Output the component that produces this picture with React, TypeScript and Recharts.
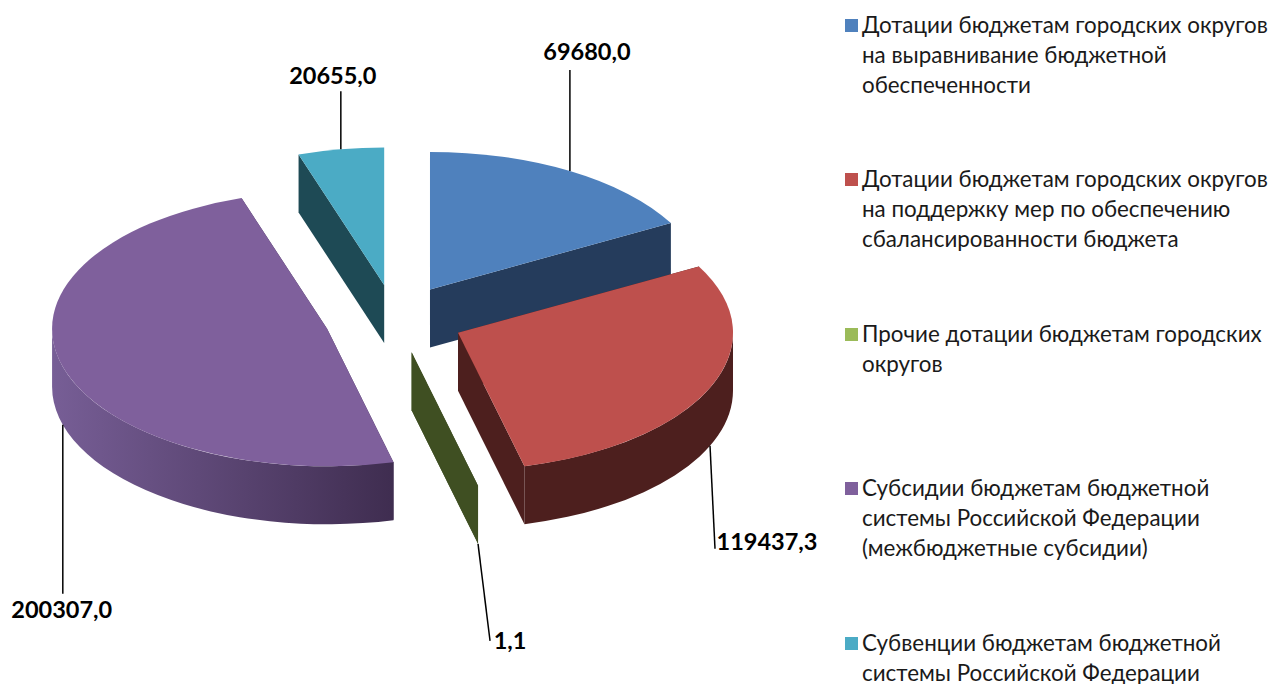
import { Legend, Pie, PieChart } from 'recharts'

const names = [
  'Дотации бюджетам городских округов на выравнивание бюджетной обеспеченности',
  'Дотации бюджетам городских округов на поддержку мер по обеспечению сбалансированности бюджета',
  'Прочие дотации бюджетам городских округов',
  'Субсидии бюджетам бюджетной системы Российской Федерации (межбюджетные субсидии)',
  'Субвенции бюджетам бюджетной системы Российской Федерации',
]
const values = [69680.0, 119437.3, 1.1, 200307.0, 20655.0]
const valueLabels = ['69680,0', '119437,3', '1,1', '200307,0', '20655,0']

const topColors = ['#4f81bd', '#be504d', '#9bbb59', '#7f609c', '#4babc5']
const faceColors = ['#253c5c', '#4d1f1e', '#3f4f22', '#3f2d50', '#1e4a55']
const rimLight = ['#253c5c', '#562422', '#3f4f22', '#775e96', '#1e4a55']
const rimDark = ['#253c5c', '#4d1f1e', '#3f4f22', '#3f2d50', '#1e4a55']
const explode = [0.25, 0.25, 0.25, 0.257, 0.25]

// where each leader line stops and its label sits, relative to the rim point
const leaderEnds = [
  { dx: 0, dy: -101, tx: 17, ty: -120 },
  { dx: 5, dy: 103, tx: 57, ty: 95 },
  { dx: 12, dy: 97, tx: 32, ty: 96 },
  { dx: 0, dy: 169, tx: -1, ty: 184 },
  { dx: 0, dy: -58, tx: -8, ty: -74 },
]

const SQUASH = 0.5
const DEPTH = 58
const RAD = Math.PI / 180

const data = names.map((name, i) => ({ name, value: values[i], fill: topColors[i] }))

function centerOf(cx: number, cy: number, r: number, midAngle: number, index: number) {
  return {
    x: cx + explode[index] * r * Math.cos(midAngle * RAD),
    y: cy - SQUASH * explode[index] * r * Math.sin(midAngle * RAD),
  }
}

function onRim(c: { x: number; y: number }, r: number, angle: number) {
  return { x: c.x + r * Math.cos(angle * RAD), y: c.y - SQUASH * r * Math.sin(angle * RAD) }
}

function Slice3D(props: any) {
  const { cx, cy, outerRadius: r, startAngle, endAngle, index } = props
  const c = centerOf(cx, cy, r, (startAngle + endAngle) / 2, index)
  const a = onRim(c, r, startAngle)
  const b = onRim(c, r, endAngle)
  const large = startAngle - endAngle > 180 ? 1 : 0
  const ry = r * SQUASH

  const face = (p: { x: number; y: number }) =>
    `M${c.x},${c.y} L${p.x},${p.y} L${p.x},${p.y + DEPTH} L${c.x},${c.y + DEPTH} Z`

  // only the front half of the rim can be seen
  const rimFrom = Math.min(startAngle, 0)
  const rimTo = Math.max(endAngle, -180)
  let rim = null
  if (rimFrom > rimTo) {
    const p = onRim(c, r, rimFrom)
    const q = onRim(c, r, rimTo)
    rim = (
      <path
        d={`M${p.x},${p.y} A${r},${ry} 0 0 1 ${q.x},${q.y} L${q.x},${q.y + DEPTH} A${r},${ry} 0 0 0 ${p.x},${p.y + DEPTH} Z`}
        fill={`url(#rim${index})`}
      />
    )
  }

  return (
    <g>
      <defs>
        <linearGradient id={`rim${index}`} gradientUnits="userSpaceOnUse" x1={c.x - r} x2={c.x + r * 0.24} y1={0} y2={0}>
          <stop offset="0" stopColor={rimLight[index]} />
          <stop offset="1" stopColor={rimDark[index]} />
        </linearGradient>
      </defs>
      <path d={face(a)} fill={faceColors[index]} />
      <path d={face(b)} fill={faceColors[index]} />
      {rim}
      <path d={`M${c.x},${c.y} L${a.x},${a.y} A${r},${ry} 0 ${large} 1 ${b.x},${b.y} Z`} fill={topColors[index]} />
    </g>
  )
}

function LeaderLabel(props: any) {
  const { cx, cy, outerRadius: r, midAngle, index } = props
  const c = centerOf(cx, cy, r, midAngle, index)
  const p = onRim(c, r, midAngle)
  // rim points on the front half hang from the bottom edge of the slice
  const startY = Math.sin(midAngle * RAD) < 0 ? p.y + DEPTH : p.y
  const end = leaderEnds[index]
  return (
    <g>
      <line x1={p.x} y1={startY} x2={p.x + end.dx} y2={startY + end.dy} stroke="#000" strokeWidth={1.5} />
      <text
        x={p.x + end.tx}
        y={startY + end.ty}
        textAnchor="middle"
        dominantBaseline="central"
        fontFamily="Lato, 'Open Sans', sans-serif"
        fontWeight={700}
        fontSize={23.5}
        fill="#000"
      >
        {valueLabels[index]}
      </text>
    </g>
  )
}

function LegendList({ payload }: any) {
  return (
    <div style={{ fontFamily: "Lato, 'Open Sans', sans-serif", fontSize: 22.4, lineHeight: '30px', color: '#1a1a1a' }}>
      {(payload ?? []).map((item: any, i: number) => (
        <div key={item.value} style={{ height: 154.4, position: 'relative', paddingLeft: 17 }}>
          <span style={{ position: 'absolute', left: 0, top: 9, width: 13, height: 13, background: topColors[i] }} />
          {item.value}
        </div>
      ))}
    </div>
  )
}

export default function App() {
  return (
    <div style={{ position: 'absolute', left: 0, top: 0, width: 1274, height: 684, overflow: 'hidden', background: '#fff' }}>
      <PieChart width={1274} height={684} margin={{ top: 0, right: 0, bottom: 0, left: 0 }}>
        <Pie
          data={data}
          dataKey="value"
          nameKey="name"
          cx={395}
          cy={319}
          outerRadius={275}
          startAngle={90}
          endAngle={-270}
          stroke="none"
          isAnimationActive={false}
          shape={Slice3D}
          label={LeaderLabel}
          labelLine={false}
        />
        <Legend
          content={LegendList}
          itemSorter={null}
          layout="vertical"
          wrapperStyle={{ left: 845, top: 10, width: 425, height: 674, overflow: 'hidden' }}
        />
      </PieChart>
    </div>
  )
}
